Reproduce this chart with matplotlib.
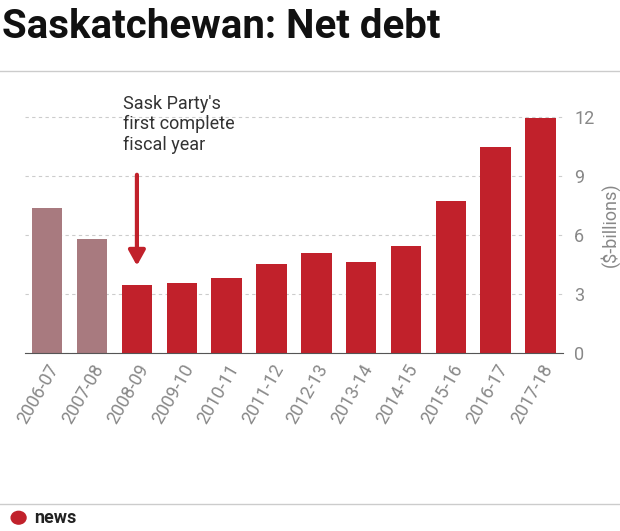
import matplotlib.pyplot as plt
from matplotlib.patches import Circle

plt.rcParams['font.family'] = ['Roboto', 'DejaVu Sans']

years = ['2006-07', '2007-08', '2008-09', '2009-10', '2010-11', '2011-12',
         '2012-13', '2013-14', '2014-15', '2015-16', '2016-17', '2017-18']
debt = [7.35, 5.8, 3.46, 3.56, 3.8, 4.52, 5.1, 4.63, 5.45, 7.75, 10.45, 11.95]
bar_colors = ['#a87a7f', '#a87a7f'] + ['#c1212b'] * 10

fig = plt.figure(figsize=(6.2, 5.31), dpi=100)
ax = fig.add_axes([0.04, 0.335, 0.868, 0.482])

ax.bar(range(len(years)), debt, width=0.68, color=bar_colors, zorder=2)
ax.set_xlim(-0.5, 11.5)
ax.set_ylim(0, 13)
ax.set_yticks([0, 3, 6, 9, 12])
ax.yaxis.tick_right()
ax.yaxis.set_label_position('right')
ax.tick_params(axis='y', length=0, labelsize=13, labelcolor='#888888', pad=8)
ax.set_ylabel('($-billions)', fontsize=13, color='#888888', labelpad=4)
ax.set_xticks(range(len(years)))
ax.set_xticklabels(years, rotation=60, ha='right', rotation_mode='anchor',
                   fontsize=13, color='#888888')
ax.tick_params(axis='x', length=0, pad=6)
ax.grid(axis='y', linestyle=(0, (3, 3)), color='#cccccc', zorder=0)
for s in ['top', 'right', 'left']:
    ax.spines[s].set_visible(False)
ax.spines['bottom'].set_color('#555555')

ax.annotate('', xy=(2, 4.3), xytext=(2, 9.2),
            arrowprops=dict(arrowstyle='-|>,head_width=0.5,head_length=0.9',
                        color='#c1212b', lw=3))
ax.text(1.7, 13.1, "Sask Party's\nfirst complete\nfiscal year", fontsize=13,
        color='#333333', va='top', ha='left', linespacing=1.15)

fig.text(0.003, 0.985, 'Saskatchewan: Net debt', fontsize=29, fontweight='bold',
         va='top', ha='left', color='#111111')
fig.add_artist(plt.Line2D([0, 1], [0.867, 0.867], color='#cccccc', lw=1))
fig.add_artist(plt.Line2D([0, 1], [0.05, 0.05], color='#cccccc', lw=1))
fig.add_artist(Circle((0.03, 0.025), 0.012, transform=fig.transFigure, color='#c1212b'))
fig.text(0.055, 0.025, 'news', fontsize=13, fontweight='bold', va='center',
         ha='left', color='#222222')

fig.savefig('out.png', dpi=100)
